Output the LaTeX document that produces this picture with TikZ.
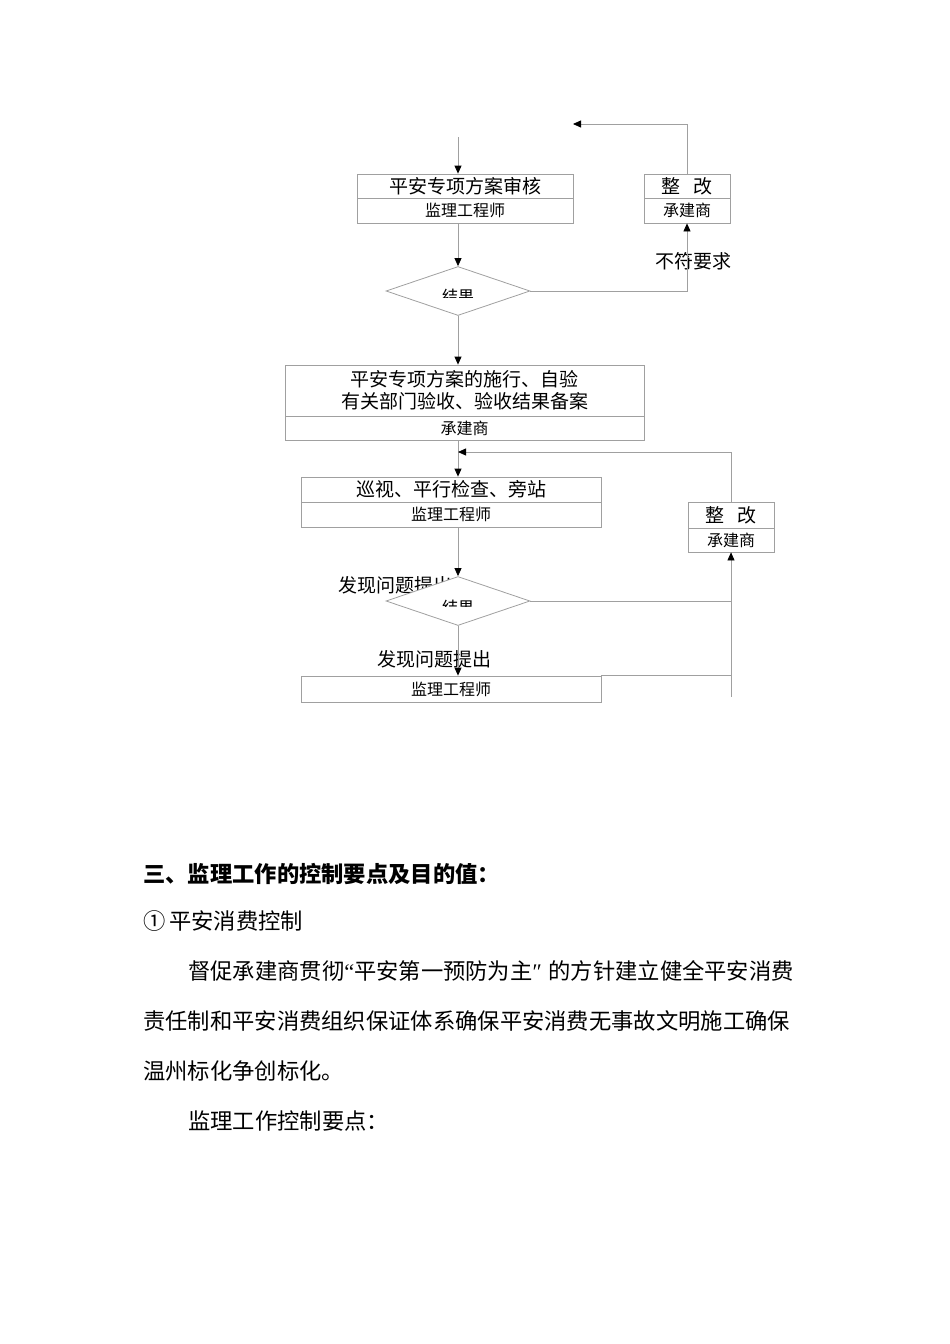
\documentclass[tikz,border=0pt]{standalone}
\usepackage{fontspec}
\setmainfont{Noto Sans CJK SC}
\newfontfamily\latq{Liberation Serif}
\usetikzlibrary{arrows.meta,shapes.geometric}
\definecolor{lg}{RGB}{160,160,160}
\begin{document}
\begin{tikzpicture}[x=1pt,y=-1pt,
  ln/.style={draw=lg,line width=0.8pt},
  arr/.style={ln,-{Triangle[length=8pt,width=7pt,color=black]}},
  bx/.style={draw=lg,line width=0.8pt,inner sep=0pt,fill=white,font=\fontsize{19}{22}\selectfont},
  sb/.style={bx,font=\fontsize{16}{18}\selectfont},
  dm/.style={diamond,draw=lg,line width=0.8pt,fill=white,inner sep=0pt,minimum width=144pt,minimum height=49pt},
  lab/.style={inner sep=0pt,font=\fontsize{19}{22}\selectfont},
  body/.style={inner sep=0pt,anchor=west,font=\fontsize{22.3}{24}\selectfont}]
\useasboundingbox (0,0) rectangle (950,1344);

% ---- boxes ----
\node[bx,minimum width=216pt,minimum height=24pt] (b1t) at (465,186) {平安专项方案审核};
\node[sb,minimum width=216pt,minimum height=25pt] (b1b) at (465,210.5) {监理工程师};
\node[bx,minimum width=86pt,minimum height=24pt] (z1t) at (687,186) {整\hspace{0.7em}改};
\node[sb,minimum width=86pt,minimum height=25pt] (z1b) at (687,210.5) {承建商};

\node[bx,minimum width=359pt,minimum height=51pt,align=center] (b2t) at (464.5,390.5) {平安专项方案的施行、自验\\有关部门验收、验收结果备案};
\node[sb,minimum width=359pt,minimum height=24pt] (b2b) at (464.5,428) {承建商};

\node[bx,minimum width=300pt,minimum height=25pt] (b3t) at (451,489.5) {巡视、平行检查、旁站};
\node[sb,minimum width=300pt,minimum height=25pt] (b3b) at (451,514.5) {监理工程师};

\node[bx,minimum width=86pt,minimum height=26pt] (z2t) at (731,515) {整\hspace{0.7em}改};
\node[sb,minimum width=86pt,minimum height=24pt] (z2b) at (731,540) {承建商};

\node[sb,minimum width=300pt,minimum height=26pt] (b4) at (451,689) {监理工程师};

% ---- labels behind diamonds ----
\node[lab] (l1) at (395,585) {发现问题提出};
\node[dm] (d1) at (458,291) {};
\node[dm] (d2) at (458,601) {};
\begin{scope}
  \clip (380,270) rectangle (540,297.5);
  \node[inner sep=0pt,font=\fontsize{16}{18}\selectfont] (k1) at (458,296.5) {结果};
\end{scope}
\begin{scope}
  \clip (380,580) rectangle (540,606.5);
  \node[inner sep=0pt,font=\fontsize{16}{18}\selectfont] (k2) at (458,607.5) {结果};
\end{scope}
\node[lab] (l2) at (434,659) {发现问题提出};
\node[lab] (nf) at (693,261) {不符要求};

% ---- coordinates ----
\coordinate (t0) at (687,124);
\coordinate (t1) at (573,124);
\coordinate (s0) at (458,137);
\coordinate (r2) at (458,452);
\coordinate (e2) at (731,697);

% ---- connectors ----
\draw[arr] (z1t.north) -- (t0) -- (t1);
\draw[arr] (s0) -- (s0 |- b1t.north);
\draw[arr] (b1b.south -| d1) -- (d1.north);
\draw[arr] (d1.east) -| (z1b.south);
\draw[arr] (d1.south) -- (d1 |- b2t.north);
\draw[arr] (b2b.south -| d1) -- (d1 |- b3t.north);
\draw[arr] (z2t.north) |- (r2);
\draw[arr] (b3b.south -| d2) -- (d2.north);
\draw[ln] (z2b.south) -- (e2);
\draw[ln] (b4.north east) -- (b4.north east -| e2);
\draw[arr] (d2.east) -| (z2b.south);
\draw[arr] (d2.south) -- (d2 |- b4.north);

% ---- body text ----
\node[body,font=\fontsize{22.3}{24}\selectfont\bfseries] (h1) at (143,874) {三、监理工作的控制要点及目的值：};
\node[body] (p1) at (143,921) {①\,平安消费控制};
\node[body] (p2) at (188,971) {督促承建商贯彻{\latq “}平安第一预防为主{\latq ″}\hspace{0.3em}的方针建立健全平安消费};
\node[body] (p3) at (143,1021) {责任制和平安消费组织保证体系确保平安消费无事故文明施工确保};
\node[body] (p4) at (143,1071) {温州标化争创标化。};
\node[body] (p5) at (188,1121) {监理工作控制要点：};
\end{tikzpicture}
\end{document}
